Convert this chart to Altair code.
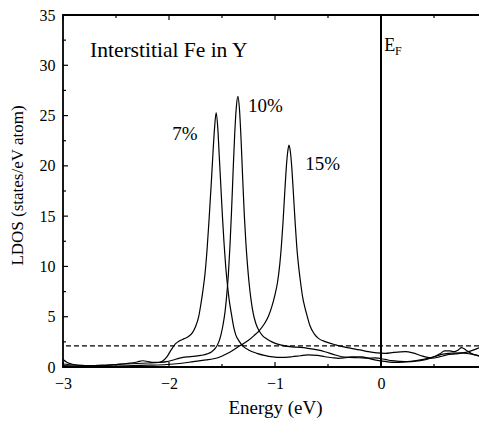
import altair as alt
import pandas as pd

# ---- data ----
x7 = [-3.0, -2.96, -2.9, -2.8, -2.7, -2.6, -2.5, -2.4, -2.3, -2.25, -2.2, -2.15, -2.1, -2.06, -2.02,
      -1.98, -1.94, -1.9, -1.86, -1.82, -1.78, -1.75, -1.72, -1.70, -1.68, -1.66, -1.64, -1.62, -1.60,
      -1.585, -1.57, -1.555, -1.54, -1.525, -1.51, -1.495, -1.48, -1.465, -1.45, -1.43, -1.41, -1.39,
      -1.37, -1.34, -1.30, -1.25, -1.17, -1.10, -1.02, -0.94, -0.84, -0.76, -0.69, -0.60, -0.53, -0.46,
      -0.40, -0.34, -0.28, -0.18, -0.06, 0.04, 0.13, 0.22, 0.32, 0.40, 0.48, 0.54, 0.60, 0.68, 0.76,
      0.84, 0.89, 0.95, 1.0]
y7 = [0.75, 0.45, 0.25, 0.15, 0.12, 0.15, 0.25, 0.35, 0.5, 0.62, 0.55, 0.45, 0.45, 0.6, 1.0,
      1.7, 2.3, 2.6, 2.8, 3.0, 3.4, 4.0, 5.0, 6.2, 7.6, 9.3, 11.8, 15.0, 18.5,
      21.3, 23.8, 25.3, 23.8, 20.8, 17.8, 14.8, 12.2, 10.0, 8.3, 6.5, 5.2, 4.0,
      3.2, 2.6, 2.05, 1.7, 1.36, 1.15, 1.0, 0.95, 1.02, 1.12, 1.2, 1.15, 1.02, 0.92,
      0.86, 0.92, 1.02, 1.0, 0.7, 0.55, 0.45, 0.5, 0.6, 0.75, 0.95, 1.15, 1.3, 1.38, 1.4,
      1.3, 1.2, 1.08, 0.95]

x10 = [-3.0, -2.9, -2.8, -2.7, -2.6, -2.5, -2.4, -2.3, -2.2, -2.1, -2.02, -1.96, -1.9, -1.83, -1.77,
       -1.70, -1.64, -1.60, -1.56, -1.53, -1.51, -1.49, -1.47, -1.455, -1.44, -1.425, -1.41, -1.395,
       -1.38, -1.365, -1.35, -1.335, -1.32, -1.305, -1.29, -1.275, -1.26, -1.245, -1.225, -1.205,
       -1.18, -1.15, -1.12, -1.08, -1.02, -0.95, -0.84, -0.76, -0.69, -0.60, -0.53, -0.45, -0.37,
       -0.30, -0.21, -0.12, -0.06, 0.04, 0.10, 0.18, 0.26, 0.34, 0.42, 0.50, 0.56, 0.60, 0.65, 0.69,
       0.73, 0.76, 0.80, 0.85, 0.92, 1.0]
y10 = [0.3, 0.2, 0.15, 0.15, 0.2, 0.25, 0.3, 0.35, 0.4, 0.45, 0.53, 0.7, 0.88, 1.0, 1.05,
       1.15, 1.3, 1.5, 1.9, 2.5, 3.2, 4.2, 5.6, 7.2, 9.2, 12.0, 15.5, 19.5,
       23.2, 25.8, 26.9, 25.6, 22.6, 18.8, 15.2, 12.4, 10.2, 8.4, 6.6, 5.3,
       4.3, 3.6, 3.15, 2.8, 2.45, 2.2, 2.0, 1.95, 1.86, 1.7, 1.52, 1.25, 1.02,
       0.95, 0.92, 0.88, 0.9, 0.75, 0.63, 0.56, 0.53, 0.6, 0.72, 1.02, 1.35, 1.6, 1.6, 1.52,
       1.7, 1.92, 1.7, 1.36, 1.1, 0.86]

x15 = [-3.0, -2.8, -2.6, -2.4, -2.2, -2.02, -1.9, -1.77, -1.65, -1.58, -1.52, -1.46, -1.40, -1.35,
       -1.30, -1.25, -1.20, -1.15, -1.10, -1.06, -1.03, -1.00, -0.975, -0.955, -0.94, -0.925, -0.91,
       -0.895, -0.88, -0.868, -0.855, -0.84, -0.825, -0.81, -0.795, -0.775, -0.76, -0.74, -0.72,
       -0.70, -0.67, -0.63, -0.59, -0.52, -0.43, -0.35, -0.28, -0.20, -0.12, -0.04, 0.04, 0.12,
       0.23, 0.30, 0.38, 0.44, 0.48, 0.55, 0.62, 0.70, 0.80, 0.90, 1.0]
y15 = [0.15, 0.1, 0.1, 0.12, 0.18, 0.25, 0.35, 0.53, 0.7, 0.82, 1.0, 1.3, 1.65, 2.0,
       2.3, 2.65, 3.1, 3.6, 4.3, 5.1, 6.0, 7.2, 8.5, 10.2, 12.0, 14.3, 17.0,
       19.6, 21.4, 22.07, 21.4, 19.6, 17.0, 14.4, 12.0, 9.8, 8.5, 7.0, 6.0,
       5.2, 4.1, 3.3, 2.85, 2.5, 2.2, 2.0, 1.86, 1.7, 1.52, 1.4, 1.36, 1.45,
       1.52, 1.4, 1.12, 0.95, 0.88, 1.0, 1.2, 1.3, 1.45, 1.8, 2.25]

fermi_energy = [0.0]
dashed_level = [2.1]

x_major_ticks = [-3, -2, -1, 0, 1]
x_minor_ticks = [-2.5, -1.5, -0.5, 0.5]
y_major_ticks = [0, 5, 10, 15, 20, 25, 30, 35]
y_minor_ticks = [2.5, 7.5, 12.5, 17.5, 22.5, 27.5, 32.5]

# left-aligned annotations
left_texts = ["Interstitial Fe in Y", "E", "F"]
left_x = [-2.745, 0.03, 0.132]
left_y = [30.8, 31.4, 31.0]
left_size = [21.5, 18, 12]
# centred annotations
mid_texts = ["7%", "10%", "15%"]
mid_x = [-1.85, -1.09, -0.55]
mid_y = [22.6, 25.35, 19.6]
mid_size = [19, 19, 19]

# ---- tables ----
X_MIN, X_MAX, Y_MIN, Y_MAX = -3, 1, 0, 35
W, H = 424, 352
# inward tick lengths (5 px major, 3 px minor) expressed in data units
ty_major, ty_minor = 5 * (Y_MAX - Y_MIN) / H, 3 * (Y_MAX - Y_MIN) / H
tx_major, tx_minor = 5 * (X_MAX - X_MIN) / W, 3 * (X_MAX - X_MIN) / W

rows = []
for name, xs, ys in [("7%", x7, y7), ("10%", x10, y10), ("15%", x15, y15)]:
    for a, b in zip(xs, ys):
        rows.append({"curve": name, "energy": a, "ldos": b})
curves_df = pd.DataFrame(rows)
left_df = pd.DataFrame({"t": left_texts, "energy": left_x, "ldos": left_y, "fs": left_size})
mid_df = pd.DataFrame({"t": mid_texts, "energy": mid_x, "ldos": mid_y, "fs": mid_size})
ef_df = pd.DataFrame({"energy": fermi_energy})
dash_df = pd.DataFrame({"ldos": dashed_level})

tick_rows = []
for vals, ln in [(x_major_ticks, ty_major), (x_minor_ticks, ty_minor)]:
    for v in vals:
        tick_rows.append({"energy": v, "e2": v, "ldos": Y_MIN, "l2": Y_MIN + ln})
        tick_rows.append({"energy": v, "e2": v, "ldos": Y_MAX, "l2": Y_MAX - ln})
for vals, ln in [(y_major_ticks, tx_major), (y_minor_ticks, tx_minor)]:
    for v in vals:
        tick_rows.append({"energy": X_MIN, "e2": X_MIN + ln, "ldos": v, "l2": v})
ticks_df = pd.DataFrame(tick_rows)

FONT = "Liberation Serif"
xscale = alt.Scale(domain=[X_MIN, X_MAX], nice=False, zero=False)
yscale = alt.Scale(domain=[Y_MIN, Y_MAX], nice=False, zero=False)

x_axis = alt.Axis(orient="bottom", values=x_major_ticks, format="d",
                  ticks=False, domain=False, grid=False,
                  labelFlush=False, labelPadding=8, title="Energy (eV)", titleFontSize=19,
                  titleX=212, titleY=46, titleBaseline="alphabetic")
y_axis = alt.Axis(orient="left", values=y_major_ticks,
                  ticks=False, domain=False, grid=False,
                  labelFlush=False, labelPadding=8, title="LDOS (states/eV atom)",
                  titleFontSize=17, titleX=-46, titleY=170, titleBaseline="middle",
                  titleAngle=270)

X = alt.X("energy:Q", scale=xscale, axis=x_axis)
Y = alt.Y("ldos:Q", scale=yscale, axis=y_axis)

curves = alt.Chart(curves_df).mark_line(color="black", strokeWidth=1.2,
                                        interpolate="monotone").encode(
    x=X, y=Y, detail="curve:N",
)

tick_marks = alt.Chart(ticks_df).mark_rule(color="black", strokeWidth=1.2).encode(
    x=X, x2="e2:Q", y=Y, y2="l2:Q",
)

ef_line = alt.Chart(ef_df).mark_rule(color="black", strokeWidth=2).encode(x=X)

dash_line = alt.Chart(dash_df).mark_rule(color="black", strokeWidth=1.2,
                                         strokeDash=[5, 3]).encode(y=Y)

left_labels = alt.Chart(left_df).mark_text(color="black", font=FONT, baseline="alphabetic",
                                           align="left").encode(
    x=X, y=Y, text="t:N",
    size=alt.Size("fs:Q", scale=None, legend=None),
)

mid_labels = alt.Chart(mid_df).mark_text(color="black", font=FONT, baseline="alphabetic",
                                         align="center").encode(
    x=X, y=Y, text="t:N",
    size=alt.Size("fs:Q", scale=None, legend=None),
)

chart = alt.layer(curves, tick_marks, dash_line, ef_line, left_labels, mid_labels).properties(
    width=W, height=H,
    autosize=alt.AutoSizeParams(type="none"),
    padding={"left": 55, "top": 7, "right": -8, "bottom": 51},
    background="white",
).configure_axis(
    labelFont=FONT, titleFont=FONT, labelColor="black", titleColor="black",
    labelFontSize=16, titleFontWeight="normal",
).configure_view(stroke="black", strokeWidth=1.8)

chart.save("out.html", embed_options={"renderer": "svg", "actions": False})
